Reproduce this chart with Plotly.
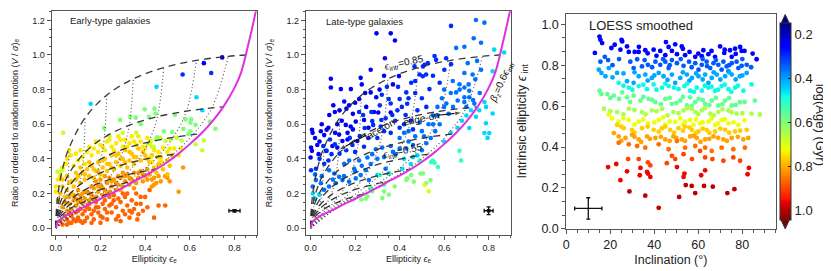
import plotly.graph_objects as go

FONT = "Liberation Sans, Arial, sans-serif"

# ---------------- model grid ----------------
INCL = [0, 5, 10, 15, 20, 30, 40, 50, 60, 70, 80, 90]
EPS_INTR = [0.15, 0.25, 0.35, 0.45, 0.55, 0.65, 0.75, 0.85]
MODEL_EPS = [
    [0, 0.0011, 0.0042, 0.0093, 0.0164, 0.0353, 0.0591, 0.085, 0.1101, 0.1311, 0.1451, 0.15],
    [0, 0.0017, 0.0066, 0.0148, 0.0259, 0.0563, 0.0949, 0.1379, 0.1803, 0.2166, 0.2412, 0.25],
    [0, 0.0022, 0.0088, 0.0195, 0.0344, 0.075, 0.1274, 0.1869, 0.2471, 0.2999, 0.3367, 0.35],
    [0, 0.0027, 0.0106, 0.0236, 0.0417, 0.0914, 0.1563, 0.2314, 0.3094, 0.3802, 0.4311, 0.45],
    [0, 0.003, 0.0121, 0.0271, 0.0478, 0.1052, 0.1812, 0.2706, 0.366, 0.4561, 0.524, 0.55],
    [0, 0.0033, 0.0133, 0.0298, 0.0527, 0.1165, 0.2016, 0.3035, 0.4153, 0.5254, 0.614, 0.65],
    [0, 0.0036, 0.0143, 0.0319, 0.0564, 0.125, 0.2173, 0.3293, 0.4551, 0.585, 0.6987, 0.75],
    [0, 0.0037, 0.0149, 0.0333, 0.0589, 0.131, 0.2279, 0.347, 0.4834, 0.63, 0.772, 0.85],
]
MODEL_VS = [
    [0, 0.0128, 0.0254, 0.0379, 0.0499, 0.0725, 0.0925, 0.1093, 0.1226, 0.1323, 0.1381, 0.14],
    [0, 0.0189, 0.0376, 0.0558, 0.0734, 0.1061, 0.1346, 0.1582, 0.1765, 0.1896, 0.1974, 0.2],
    [0, 0.0265, 0.0525, 0.0779, 0.1023, 0.1471, 0.1853, 0.2164, 0.2402, 0.2569, 0.2667, 0.27],
    [0, 0.0347, 0.0687, 0.1017, 0.1332, 0.1904, 0.2382, 0.2763, 0.3049, 0.3247, 0.3362, 0.34],
    [0, 0.0457, 0.0905, 0.1338, 0.1747, 0.2478, 0.3078, 0.3544, 0.3888, 0.4121, 0.4256, 0.43],
    [0, 0.0607, 0.12, 0.1768, 0.2302, 0.324, 0.399, 0.4558, 0.4968, 0.5242, 0.5399, 0.545],
    [0, 0.0821, 0.1619, 0.2378, 0.3084, 0.43, 0.5245, 0.5943, 0.6435, 0.6758, 0.6941, 0.70],
    [0, 0.1241, 0.2442, 0.3575, 0.4613, 0.6363, 0.7679, 0.8622, 0.9271, 0.9691, 0.9924, 1.0],
]
DASHED_LEVELS = [0.25, 0.35, 0.45, 0.55, 0.65, 0.75, 0.85]
DOTTED_INCL = [10, 20, 30, 40, 50, 60, 70, 80]

EDGE_X = [0.003, 0.006, 0.02, 0.05, 0.1, 0.15, 0.2, 0.25, 0.3, 0.35, 0.4, 0.45, 0.5, 0.55,
          0.6, 0.65, 0.7, 0.75, 0.8, 0.83, 0.86, 0.88, 0.9]
EDGE_Y = [0.0, 0.03, 0.05, 0.075, 0.105, 0.138, 0.168, 0.2, 0.233, 0.27, 0.303, 0.34, 0.382,
          0.43, 0.485, 0.545, 0.615, 0.70, 0.81, 0.9, 1.05, 1.16, 1.28]

# ---------------- Early-type galaxies: (ellipticity, V/sigma) per age band ----------------
ETG_BANDS_AGE = [0.87, 0.82, 0.78, 0.745, 0.68, 0.6, 0.45, 0.3, 0.25, 0.2]
ETG_RED = [(0.02,0.04),(0.03,0.02),(0.05,0.05),(0.06,0.03),(0.07,0.07),(0.08,0.05),(0.09,0.09),(0.1,0.06),
           (0.11,0.04),(0.12,0.08),(0.13,0.1),(0.14,0.06),(0.15,0.11),(0.16,0.08),(0.17,0.05),(0.18,0.12),
           (0.19,0.09),(0.2,0.07),(0.21,0.14),(0.22,0.11),(0.23,0.05),(0.24,0.13),(0.25,0.09),(0.26,0.16),
           (0.27,0.12),(0.28,0.07),(0.29,0.15),(0.3,0.1),(0.31,0.18),(0.32,0.13),(0.33,0.06),(0.34,0.16),
           (0.35,0.11),(0.36,0.2),(0.37,0.08),(0.38,0.14),(0.4,0.18),(0.41,0.12),(0.42,0.22),(0.44,0.06),
           (0.46,0.13),(0.49,0.13),(0.1,0.1),(0.14,0.12),(0.18,0.15),(0.22,0.16),(0.26,0.19),(0.06,0.09),
           (0.04,0.07),(0.12,0.03),(0.2,0.03),(0.29,0.04),(0.33,0.1),(0.365,0.05),(0.24,0.18),(0.3,0.2),
           (0.05,0.02),(0.09,0.04),(0.13,0.04),(0.16,0.03),(0.19,0.12),(0.21,0.06),(0.23,0.09),(0.25,0.14),
           (0.27,0.05),(0.28,0.17),(0.31,0.08),(0.32,0.2),(0.34,0.09),(0.36,0.14),(0.38,0.18),(0.39,0.1),
           (0.15,0.14),(0.11,0.11),(0.07,0.03),(0.17,0.1)]
ETG_ORANGE = [(0.03,0.12),(0.05,0.1),(0.06,0.14),(0.07,0.11),(0.08,0.16),(0.09,0.13),(0.1,0.15),(0.11,0.19),
              (0.12,0.14),(0.13,0.17),(0.14,0.21),(0.15,0.16),(0.16,0.19),(0.17,0.23),(0.18,0.18),(0.19,0.21),
              (0.2,0.25),(0.21,0.19),(0.22,0.22),(0.23,0.26),(0.24,0.21),(0.25,0.24),(0.26,0.28),(0.27,0.22),
              (0.28,0.25),(0.29,0.29),(0.3,0.24),(0.31,0.27),(0.32,0.31),(0.33,0.25),(0.34,0.28),(0.35,0.32),
              (0.36,0.26),(0.37,0.29),(0.38,0.33),(0.39,0.27),(0.4,0.3),(0.41,0.34),(0.42,0.31),(0.43,0.28),
              (0.44,0.25),(0.45,0.26),(0.46,0.3),(0.49,0.3),(0.5,0.29),(0.51,0.27),(0.55,0.21),(0.57,0.35),
              (0.12,0.2),(0.16,0.24),(0.2,0.28),(0.24,0.29),(0.28,0.3),(0.08,0.19),(0.1,0.22),(0.35,0.23),
              (0.43,0.24),(0.04,0.15),(0.06,0.18),(0.09,0.17),(0.11,0.16),(0.13,0.21),(0.15,0.2),(0.17,0.17),
              (0.19,0.24),(0.21,0.23),(0.23,0.2),(0.25,0.27),(0.27,0.26),(0.29,0.22),(0.31,0.3),(0.33,0.29),
              (0.35,0.27),(0.37,0.32),(0.39,0.31),(0.41,0.28),(0.44,0.29),(0.47,0.27),(0.18,0.27),(0.22,0.3),
              (0.3,0.32)]
ETG_YORANGE = [(0.02,0.2),(0.01,0.16),(0.03,0.24),(0.04,0.18),(0.05,0.22),(0.06,0.26),(0.07,0.2),(0.08,0.24),
               (0.09,0.28),(0.1,0.3),(0.11,0.26),(0.12,0.32),(0.13,0.28),(0.14,0.34),(0.15,0.3),(0.16,0.36),
               (0.17,0.29),(0.18,0.33),(0.19,0.38),(0.2,0.31),(0.21,0.35),(0.22,0.4),(0.23,0.33),(0.24,0.37),
               (0.25,0.42),(0.26,0.34),(0.27,0.38),(0.28,0.43),(0.29,0.36),(0.3,0.4),(0.31,0.45),(0.32,0.35),
               (0.33,0.39),(0.34,0.43),(0.35,0.37),(0.36,0.41),(0.37,0.46),(0.38,0.39),(0.4,0.42),(0.42,0.38),
               (0.44,0.35),(0.45,0.32),(0.48,0.34),(0.5,0.31),(0.51,0.36),(0.52,0.42),(0.5,0.39),
               (0.03,0.28),(0.05,0.3),(0.07,0.27),(0.09,0.32),(0.11,0.35),(0.13,0.31),(0.15,0.38),(0.17,0.34),
               (0.19,0.33),(0.21,0.39),(0.23,0.37),(0.25,0.35),(0.27,0.42),(0.29,0.4),(0.31,0.38),(0.33,0.44),
               (0.35,0.41),(0.39,0.44),(0.41,0.4),(0.43,0.42),(0.46,0.37),(0.47,0.41)]
ETG_YELLOW = [(0.0,0.24),(0.0,0.21),(0.01,0.28),(0.02,0.3),(0.045,0.37),(0.05,0.4),(0.067,0.42),(0.08,0.36),
              (0.1,0.39),(0.12,0.41),(0.13,0.37),(0.14,0.44),(0.16,0.42),(0.17,0.46),(0.19,0.44),(0.2,0.48),
              (0.22,0.45),(0.23,0.5),(0.25,0.47),(0.27,0.49),(0.28,0.53),(0.3,0.47),(0.31,0.51),(0.33,0.49),
              (0.34,0.53),(0.36,0.48),(0.38,0.5),(0.4,0.46),(0.42,0.49),(0.425,0.41),(0.44,0.45),(0.455,0.41),
              (0.47,0.39),(0.48,0.37),(0.48,0.465),(0.51,0.46),(0.53,0.46),(0.55,0.42),(0.56,0.46),(0.43,0.38),
              (0.45,0.35),(0.03,0.35),(0.06,0.45),(0.09,0.43),(0.11,0.45),(0.15,0.47),(0.18,0.5),(0.21,0.47),
              (0.24,0.51),(0.26,0.45),(0.29,0.51),(0.32,0.47),(0.35,0.5),(0.37,0.53),(0.39,0.47),(0.41,0.52),
              (0.43,0.47),(0.46,0.44),(0.5,0.44)]
ETG_YGREEN = [(0.0075,0.325),(0.019,0.325),(0.03,0.334),(0.033,0.55),(0.425,0.503),(0.447,0.512),(0.469,0.521),
              (0.492,0.503),(0.514,0.512),(0.541,0.521),(0.563,0.506),(0.626,0.484),(0.656,0.45),(0.663,0.506),
              (0.41,0.484),(0.439,0.469),(0.3,0.55),(0.36,0.55),(0.24,0.53)]
ETG_GREEN = [(0.216,0.578),(0.288,0.625),(0.332,0.644),(0.358,0.638),(0.398,0.686),(0.442,0.69),(0.447,0.662),
             (0.417,0.643),(0.484,0.559),(0.521,0.555),(0.533,0.653),(0.571,0.574),(0.581,0.628),(0.593,0.544),
             (0.603,0.559),(0.603,0.609),(0.606,0.628),(0.626,0.596),(0.69,0.615),(0.715,0.574),(0.454,0.525),
             (0.38,0.6)]
ETG_CYAN = [(0.156,0.718),(0.451,0.816),(0.63,0.756),(0.656,0.681)]
ETG_BLUE = [(0.568,0.887),(0.696,0.896)]
ETG_BLUE2 = [(0.663,0.953)]
ETG_NAVY = [(0.745,0.986)]
ETG_BANDS = [ETG_RED, ETG_ORANGE, ETG_YORANGE, ETG_YELLOW, ETG_YGREEN, ETG_GREEN, ETG_CYAN, ETG_BLUE,
             ETG_BLUE2, ETG_NAVY]

# ---------------- Late-type galaxies ----------------
LTG_BANDS_AGE = [0.24, 0.3, 0.36, 0.45, 0.52, 0.6, 0.7]
LTG_NAVY = [(0.296,1.125),(0.36,1.125),(0.379,1.084),(0.334,0.981),(0.27,0.915),(0.225,0.868),(0.091,0.863),
            (0.091,0.812),(0.151,0.731),(0.173,0.709),(0.2,0.724),(0.218,0.746),(0.245,0.78),(0.27,0.784),
            (0.295,0.756),(0.285,0.671),(0.304,0.668),(0.36,0.668),(0.37,0.83),(0.397,0.878),(0.006,0.568),
            (0.009,0.55),(0.046,0.559),(0.061,0.537),(0.072,0.568),(0.002,0.465),(0.006,0.446),(0.036,0.427),
            (0.069,0.446),(0.098,0.474),(0.12,0.465),(0.143,0.503),(0.166,0.55),(0.158,0.596),(0.18,0.587),
            (0.203,0.615),(0.24,0.624),(0.128,0.54),(0.166,0.512),(0.21,0.503),(0.102,0.709),(0.084,0.653),
            (0.109,0.671),(0.161,0.69),(0.136,0.803),(0.181,0.803),(0.0,0.408),(0.04,0.5),(0.14,0.62),
            (0.02,0.52),(0.05,0.6),(0.08,0.58),(0.12,0.6),(0.13,0.68),(0.19,0.66),(0.25,0.7),(0.23,0.83),
            (0.31,0.8),(0.33,0.88),(0.03,0.48),(0.11,0.55),(0.19,0.57),(0.26,0.58)]
LTG_BLUE = [(0.277,0.618),(0.315,0.587),(0.337,0.634),(0.367,0.653),(0.218,0.671),(0.188,0.48),(0.343,0.816),
            (0.393,0.816),(0.351,0.746),(0.311,0.709),(0.273,0.671),(0.236,0.653),(0.4,0.746),(0.43,0.784),
            (0.452,0.84),(0.49,0.887),(0.505,0.934),(0.467,0.934),(0.434,0.718),(0.427,0.653),(0.318,0.624),
            (0.281,0.596),(0.243,0.578),(0.221,0.531),(0.176,0.521),(0.109,0.484),(0.087,0.512),(0.057,0.474),
            (0.072,0.446),(0.094,0.427),(0.002,0.334),(0.024,0.343),(0.061,0.371),(0.512,0.943),(0.527,0.953),
            (0.564,0.972),(0.504,0.877),(0.519,0.887),(0.534,0.803),(0.631,1.168),(0.557,0.994),(0.609,0.981),
            (0.601,0.915),(0.631,0.947),(0.47,0.78),(0.5,0.75),(0.48,0.68),(0.52,0.7),(0.45,0.62),(0.40,0.58),
            (0.38,0.62),(0.42,0.6),(0.46,0.57),(0.04,0.4),(0.08,0.39),(0.13,0.43),(0.16,0.45),(0.2,0.44),
            (0.24,0.47),(0.26,0.52),(0.3,0.52),(0.33,0.56),(0.36,0.55),(0.39,0.68),(0.41,0.7),(0.44,0.75),
            (0.47,0.85),(0.55,0.88),(0.58,0.84),(0.36,0.72),(0.32,0.77)]
LTG_LBLUE = [(0.083,0.334),(0.106,0.315),(0.128,0.296),(0.151,0.371),(0.173,0.39),(0.196,0.343),(0.218,0.39),
             (0.255,0.408),(0.277,0.427),(0.293,0.455),(0.322,0.465),(0.36,0.474),(0.382,0.427),(0.024,0.277),
             (0.046,0.259),(0.009,0.24),(0.061,0.221),(0.083,0.24),(0.113,0.259),(0.143,0.277),(0.173,0.268),
             (0.203,0.287),(0.225,0.306),(0.248,0.334),(0.262,0.277),(0.337,0.343),(0.352,0.315),(0.4,0.52),
             (0.42,0.55),(0.44,0.5),(0.47,0.53),(0.5,0.56),(0.53,0.6),(0.55,0.65),(0.57,0.7),(0.59,0.75),
             (0.6,0.8),(0.639,0.85),(0.669,0.831),(0.691,0.812),(0.654,0.784),(0.691,0.756),(0.713,0.793),
             (0.654,1.041),(0.691,1.048),(0.733,1.097),(0.766,1.071),(0.743,1.202),(0.781,1.187),(0.706,0.953),
             (0.748,0.966),(0.728,0.887),(0.691,0.896),(0.766,0.915),(0.661,0.737),(0.691,0.728),(0.713,0.756),
             (0.736,0.719),(0.5,0.45),(0.52,0.49),(0.54,0.52),(0.58,0.6),(0.62,0.66),(0.64,0.7),(0.61,0.72),
             (0.49,0.61),(0.44,0.56),(0.56,0.56),(0.02,0.31),(0.05,0.3),(0.1,0.28),(0.15,0.3),(0.2,0.33),
             (0.23,0.36),(0.27,0.37),(0.3,0.4),(0.33,0.41),(0.37,0.44),(0.4,0.46),(0.43,0.46),(0.46,0.48),
             (0.51,0.53),(0.55,0.6),(0.57,0.65),(0.6,0.7),(0.63,0.78),(0.67,0.8),(0.71,0.83),(0.74,0.86),
             (0.7,0.7),(0.76,0.78),(0.73,0.74)]
LTG_CYAN = [(0.721,0.681),(0.781,0.728),(0.788,0.7),(0.758,0.681),(0.743,0.643),(0.713,0.578),(0.781,0.549),
            (0.795,0.521),(0.818,0.906),(0.825,1.031),(0.87,1.014),(0.818,0.662),(0.788,0.606),(0.803,0.549),
            (0.3,0.306),(0.039,0.193),(0.412,0.343),(0.45,0.37),(0.42,0.4),(0.48,0.42),(0.46,0.41),(0.6,0.5),
            (0.63,0.55),(0.66,0.58),(0.68,0.62),(0.7,0.65),(0.02,0.17),(0.01,0.2)]
LTG_AQUA = [(0.549,0.39),(0.557,0.377),(0.542,0.381),(0.676,0.39),(0.669,0.446),(0.49,0.39),(0.572,0.353),
            (0.33,0.25),(0.27,0.23),(0.311,0.306),(0.355,0.315)]
LTG_GREEN = [(0.494,0.315),(0.464,0.268),(0.519,0.259),(0.539,0.277),(0.434,0.287),(0.33,0.212),(0.352,0.193),
             (0.322,0.174),(0.255,0.184),(0.277,0.212),(0.228,0.165),(0.248,0.169),(0.378,0.24),(0.333,0.259),
             (0.43,0.278),(0.452,0.306),(0.505,0.315)]
LTG_YELLOW = [(0.512,0.249),(0.531,0.212)]
LTG_BANDS = [LTG_NAVY, LTG_BLUE, LTG_LBLUE, LTG_CYAN, LTG_AQUA, LTG_GREEN, LTG_YELLOW]

# ---------------- LOESS panel: (inclination, intrinsic ellipticity) per age band ----------------
LOESS_BANDS_AGE = [0.26, 0.34, 0.41, 0.48, 0.57, 0.65, 0.72, 0.77, 0.81, 0.86, 0.9, 0.96, 1.0]
L_NAVY = [(15.1,0.94),(15.5,0.924),(16.3,0.908),(13,0.86),(25.1,0.924),(25.4,0.916),(20.5,0.884),(24.6,0.876),
          (27.6,0.892),(28.4,0.865),(31.1,0.865),(32.9,0.865),(35.9,0.873),(39.7,0.876),(42.7,0.87),(45.3,0.913),
          (46.5,0.889),(49.5,0.902),(52.5,0.892),(50.3,0.854),(54,0.849),(45,0.849),(58.6,0.841),(61.6,0.844),
          (64.6,0.854),(67.6,0.841),(69.9,0.892),(71.8,0.86),(74.4,0.873),(76.7,0.881),(79,0.889),(79.7,0.87),
          (75.2,0.841),(84.7,0.857),(86.5,0.829),(62.3,0.873),(22,0.9),(33,0.89),(37,0.858),(41,0.846),
          (48,0.87),(56,0.865),(60,0.857),(66,0.87),(72,0.876),(77,0.855),(81,0.87),(53,0.88)]
L_BLUE = [(17.5,0.841),(19,0.825),(15.5,0.817),(29.1,0.817),(32.2,0.829),(35.6,0.825),(37.1,0.802),(40.5,0.817),
          (42.7,0.802),(45,0.817),(48,0.825),(50.3,0.81),(53.3,0.797),(55.8,0.817),(58.6,0.81),(61.6,0.802),
          (63.8,0.817),(66.9,0.81),(69.1,0.802),(71.4,0.817),(72.9,0.794),(75.2,0.81),(77.4,0.817),(79.7,0.797),
          (82,0.802),(34.4,0.794),(30.6,0.786),(46.5,0.786),(60.1,0.778),(65.4,0.786),(73.7,0.77),(78.2,0.786),
          (70.6,0.778),(21,0.8),(24,0.83),(39,0.79),(44,0.83),(47,0.8),(52,0.83),(57,0.79),(62,0.83),
          (64,0.795),(68,0.825),(74,0.8),(80,0.83),(84,0.79)]
L_LBLUE = [(14.8,0.778),(16,0.762),(17.8,0.746),(19.3,0.786),(23.1,0.762),(32.9,0.746),(35.9,0.754),(38.9,0.738),
           (42,0.762),(44.2,0.746),(48,0.754),(51.8,0.738),(54.8,0.754),(57.1,0.738),(60.1,0.746),(63.1,0.754),
           (66.1,0.738),(68.4,0.754),(72.2,0.746),(75.2,0.754),(78.9,0.746),(82,0.762),(27.6,0.722),(30.6,0.714),
           (49.5,0.714),(64.6,0.714),(21,0.74),(26,0.76),(31,0.765),(37,0.725),(40,0.75),(46,0.728),(53,0.765),
           (56,0.725),(59,0.76),(62,0.73),(67,0.765),(70,0.73),(74,0.765),(77,0.73),(80,0.75)]
L_CYAN = [(23.8,0.714),(28.4,0.69),(32.9,0.698),(36.7,0.683),(39.7,0.706),(43.5,0.69),(46.5,0.698),(51,0.683),
          (53.7,0.698),(56.3,0.675),(59.3,0.69),(61.6,0.675),(64.6,0.69),(67.6,0.675),(70.6,0.698),(73.7,0.683),
          (76.7,0.69),(80.5,0.675),(84.2,0.706),(26,0.7),(30,0.68),(35,0.705),(41,0.68),(45,0.71),(49,0.69),
          (55,0.71),(58,0.67),(63,0.7),(66,0.695),(69,0.68),(72,0.705),(75,0.67),(78,0.7)]
L_GREEN = [(15.1,0.675),(16,0.659),(18.6,0.659),(21.6,0.651),(25.4,0.667),(27.6,0.643),(30.6,0.651),(33.7,0.627),
           (37.4,0.635),(40.5,0.619),(45,0.635),(48,0.611),(51.8,0.627),(54.8,0.603),(58.5,0.619),(60.1,0.635),
           (63.1,0.611),(66.1,0.627),(69.1,0.603),(72.2,0.627),(75.2,0.603),(78.9,0.619),(85.7,0.627),(56.3,0.643),
           (20,0.64),(24,0.635),(29,0.62),(35,0.645),(39,0.63),(43,0.61),(47,0.64),(50,0.615),(53,0.645),
           (57,0.6),(62,0.63),(65,0.605),(68,0.64),(71,0.61),(74,0.64),(77,0.605),(81,0.62)]
L_LGREEN = [(17.1,0.587),(23.1,0.571),(28.4,0.587),(34.4,0.571),(38.9,0.579),(43.5,0.587),(48.7,0.571),
            (53.3,0.579),(57,0.587),(58.6,0.571),(61.6,0.579),(65.4,0.563),(69.1,0.571),(73.7,0.579),(77.4,0.563),
            (84.2,0.563),(88,0.559),(20,0.575),(26,0.56),(31,0.58),(36,0.56),(41,0.575),(46,0.555),(51,0.565),
            (55,0.59),(60,0.56),(63,0.59),(67,0.555),(71,0.585),(75,0.57),(80,0.565)]
L_YELLOW = [(19.3,0.559),(20.8,0.54),(23.8,0.524),(28.4,0.532),(32.9,0.524),(37.1,0.516),(42,0.532),(45,0.508),
            (49.5,0.524),(51.8,0.54),(54,0.524),(56.3,0.532),(57.8,0.508),(60.8,0.516),(64.6,0.524),(67.6,0.508),
            (70.6,0.532),(73.7,0.516),(78.2,0.508),(26,0.54),(31,0.51),(35,0.535),(40,0.52),(44,0.545),(47,0.525),
            (53,0.51),(59,0.535),(62,0.52),(66,0.54),(69,0.515),(72,0.535),(76,0.52),(81,0.53)]
L_YORANGE = [(23.1,0.508),(26.1,0.492),(29.9,0.484),(34.4,0.492),(39.7,0.484),(43.5,0.492),(47.2,0.484),
             (51,0.492),(54,0.5),(57.1,0.484),(60.1,0.476),(63.8,0.484),(67.6,0.476),(72.2,0.484),(76.7,0.476),
             (82,0.484),(25,0.5),(31,0.47),(37,0.5),(42,0.475),(45,0.5),(49,0.47),(53,0.48),(56,0.495),(59,0.47),
             (62,0.49),(65,0.47),(70,0.49),(74,0.47),(79,0.48)]
L_ORANGE = [(21.6,0.468),(23.8,0.452),(26.9,0.444),(29.9,0.46),(32.9,0.437),(36.7,0.452),(40.5,0.444),(45,0.437),
            (48.7,0.452),(52.5,0.437),(56.3,0.452),(59.3,0.444),(63.1,0.437),(66.9,0.452),(71.4,0.437),(75.2,0.444),
            (80.5,0.437),(82.7,0.444),(25,0.43),(31,0.45),(34,0.425),(38,0.44),(43,0.45),(47,0.43),(50,0.445),
            (54,0.43),(58,0.455),(61,0.425),(65,0.44),(69,0.445),(73,0.43),(78,0.45)]
L_ORED = [(23.8,0.421),(28.4,0.413),(32.2,0.405),(35.9,0.397),(42,0.413),(46.5,0.389),(50.3,0.429),(54,0.397),
          (58.6,0.405),(63.1,0.397),(66.1,0.381),(70.6,0.397),(75.9,0.389),(81.2,0.397)]
L_RED = [(28.1,0.341),(32.9,0.341),(37.1,0.325),(38.2,0.31),(48,0.357),(49.5,0.341),(57.1,0.341),(63.1,0.349),
         (66.4,0.341),(71.4,0.333),(75.9,0.349),(79,0.333),(45.7,0.321),(53.3,0.365),(60.8,0.381)]
L_DRED = [(19,0.302),(22.7,0.317),(27.6,0.281),(33.7,0.298),(33.4,0.262),(36.7,0.278),(37.1,0.27),(38.2,0.254),
          (50.3,0.302),(53.7,0.27),(53.3,0.254),(61.3,0.262),(83,0.298),(82.4,0.267),(24.6,0.238),(63.1,0.286)]
L_DDRED = [(28.7,0.183),(35.9,0.162),(42,0.103),(51.3,0.156),(57,0.21),(58.6,0.175),(62.6,0.21),(66.6,0.206),
           (73.2,0.175),(76.4,0.194),(54.3,0.214)]
LOESS_BANDS = [L_NAVY, L_BLUE, L_LBLUE, L_CYAN, L_GREEN, L_LGREEN, L_YELLOW, L_YORANGE, L_ORANGE, L_ORED,
               L_RED, L_DRED, L_DDRED]

CBAR_TICKS = [0.2, 0.4, 0.6, 0.8, 1.0]
CBAR_LABELS = ["0.2", "0.4", "0.6", "0.8", "1.0"]
AGE_MIN, AGE_MAX = 0.15, 1.0455

# matplotlib-like jet, (fraction, colour); reversed because age axis runs downward
JET = [(0.0, "rgb(0,0,128)"), (0.11, "rgb(0,0,255)"), (0.125, "rgb(0,0,255)"), (0.34, "rgb(0,219,255)"),
       (0.35, "rgb(0,229,247)"), (0.375, "rgb(21,255,226)"), (0.64, "rgb(239,255,8)"), (0.65, "rgb(247,245,0)"),
       (0.66, "rgb(255,236,0)"), (0.89, "rgb(255,19,0)"), (0.91, "rgb(232,0,0)"), (1.0, "rgb(128,0,0)")]
COLORSCALE = sorted([[round(1 - f, 4), c] for f, c in JET], key=lambda t: t[0])

fig = go.Figure()


def add_points(bands, ages, xa, ya, size):
    for pts, age in zip(bands, ages):
        fig.add_trace(go.Scatter(
            x=[p[0] for p in pts], y=[p[1] for p in pts], mode="markers", xaxis=xa, yaxis=ya,
            marker=dict(size=size, color=[-age] * len(pts), coloraxis="coloraxis", line=dict(width=0)),
            showlegend=False, hoverinfo="skip"))


def add_model(xa, ya):
    for lev in DASHED_LEVELS:
        k = EPS_INTR.index(lev)
        fig.add_trace(go.Scatter(x=MODEL_EPS[k], y=MODEL_VS[k], mode="lines", xaxis=xa, yaxis=ya,
                                 line=dict(color="rgba(45,45,45,0.95)", width=1.3, dash="7px,5px", shape="spline"),
                                 showlegend=False, hoverinfo="skip"))
    for inc in DOTTED_INCL:
        j = INCL.index(inc)
        fig.add_trace(go.Scatter(x=[0] + [row[j] for row in MODEL_EPS], y=[0] + [row[j] for row in MODEL_VS],
                                 mode="lines", xaxis=xa, yaxis=ya,
                                 line=dict(color="rgba(60,60,60,0.9)", width=1.1, dash="1px,2.5px", shape="spline"),
                                 showlegend=False, hoverinfo="skip"))
    fig.add_trace(go.Scatter(x=EDGE_X, y=EDGE_Y, mode="lines", xaxis=xa, yaxis=ya,
                             line=dict(color="#e030e0", width=2, shape="spline"), showlegend=False,
                             hoverinfo="skip"))


def add_err(xa, ya, x, y, ex, ey, msize):
    fig.add_trace(go.Scatter(x=[x], y=[y], mode="markers", xaxis=xa, yaxis=ya,
                             marker=dict(size=msize, color="#111", symbol="square"),
                             error_x=dict(type="constant", value=ex, color="#111", thickness=1.3, width=2),
                             error_y=dict(type="constant", value=ey, color="#111", thickness=1.3, width=2),
                             showlegend=False, hoverinfo="skip"))


def add_arrow(xa, ya, x0, y0, x1, y1):
    fig.add_trace(go.Scatter(x=[x0, x1], y=[y0, y1], mode="lines+markers", xaxis=xa, yaxis=ya,
                             line=dict(color="#111", width=1.2),
                             marker=dict(symbol="arrow", size=[0, 8], angleref="previous", color="#111"),
                             showlegend=False, hoverinfo="skip"))


add_points(ETG_BANDS, ETG_BANDS_AGE, "x", "y", 4.6)
add_model("x", "y")
add_err("x", "y", 0.8, 0.1, 0.025, 0.006, 3.5)

add_points(LTG_BANDS, LTG_BANDS_AGE, "x2", "y2", 4.6)
add_model("x2", "y2")
add_err("x2", "y2", 0.8, 0.1, 0.02, 0.022, 3.5)
add_arrow("x2", "y2", 0.248, 0.536, 0.125, 0.45)
add_arrow("x2", "y2", 0.572, 0.652, 0.682, 0.667)

add_points(LOESS_BANDS, LOESS_BANDS_AGE, "x3", "y3", 4.8)
add_err("x3", "y3", 10, 0.1, 6.2, 0.052, 1)

small = dict(family=FONT, size=9, color="#222")
big = dict(family=FONT, size=12.5, color="#222")
line_c = "#555"


def ax_common(font):
    return dict(showline=True, mirror=True, linecolor=line_c, linewidth=1, ticks="outside", ticklen=4,
                tickcolor=line_c, tickfont=font, showgrid=False, zeroline=False)


VS_TITLE = "Ratio of ordered to random motion (<i>V</i> / <i>σ</i>)<sub>e</sub>"
EPS_TITLE = "Ellipticity <i>ϵ</i><sub>e</sub>"

fig.update_layout(
    width=831, height=271, margin=dict(l=0, r=0, t=0, b=0), plot_bgcolor="white", paper_bgcolor="white",
    font=dict(family=FONT, color="#222"),
    coloraxis=dict(colorscale=COLORSCALE, cmin=-AGE_MAX, cmax=-AGE_MIN,
                   colorbar=dict(x=771.7 / 831, xanchor="left", y=1 - 116.65 / 271, yanchor="middle",
                                 lenmode="pixels", len=196.7, thicknessmode="pixels", thickness=10.6,
                                 outlinewidth=1, outlinecolor="#333", ticks="inside", ticklen=3,
                                 tickcolor="#222", tickvals=[-t for t in CBAR_TICKS], ticktext=CBAR_LABELS,
                                 tickfont=dict(family=FONT, size=13, color="#222"), xpad=0, ypad=0)),
    xaxis=dict(domain=[40.7 / 831, 246.7 / 831], range=[-0.019, 0.9], anchor="y", dtick=0.2, tick0=0,
               tickformat=".1f", minor=dict(dtick=0.05, ticklen=2, ticks="outside", tickcolor=line_c),
               title=dict(text=EPS_TITLE, font=small, standoff=3), **ax_common(small)),
    yaxis=dict(domain=[1 - 233 / 271, 1 - 3.3 / 271], range=[-0.04, 1.253], anchor="x", dtick=0.2, tick0=0,
               tickformat=".1f", minor=dict(dtick=0.05, ticklen=2, ticks="outside", tickcolor=line_c),
               title=dict(text=VS_TITLE, font=small, standoff=12), **ax_common(small)),
    xaxis2=dict(domain=[296 / 831, 501.7 / 831], range=[-0.021, 0.9], anchor="y2", dtick=0.2, tick0=0,
                tickformat=".1f", minor=dict(dtick=0.05, ticklen=2, ticks="outside", tickcolor=line_c),
                title=dict(text=EPS_TITLE, font=small, standoff=3), **ax_common(small)),
    yaxis2=dict(domain=[1 - 233 / 271, 1 - 3.3 / 271], range=[-0.04, 1.253], anchor="x2", dtick=0.2, tick0=0,
                tickformat=".1f", minor=dict(dtick=0.05, ticklen=2, ticks="outside", tickcolor=line_c),
                title=dict(text=VS_TITLE, font=small, standoff=12), **ax_common(small)),
    xaxis3=dict(domain=[557.3 / 831, 767.3 / 831], range=[0, 95.1], anchor="y3", dtick=20, tick0=0,
                minor=dict(dtick=5, ticklen=3, ticks="outside", tickcolor=line_c),
                title=dict(text="Inclination (°)", font=big, standoff=4), **ax_common(big)),
    yaxis3=dict(domain=[1 - 226.7 / 271, 1 - 6 / 271], range=[0, 1.051], anchor="x3", dtick=0.2, tick0=0,
                tickformat=".1f", minor=dict(dtick=0.2 / 3, ticklen=3, ticks="outside", tickcolor=line_c),
                title=dict(text="Intrinsic ellipticity <i>ϵ</i><sub> int</sub>", font=big, standoff=12),
                **ax_common(big)),
)

ann_small = dict(family=FONT, size=10, color="#111")
fig.add_annotation(x=0.244, y=1.197, xref="x", yref="y", text="Early-type galaxies", showarrow=False,
                   font=dict(family=FONT, size=9.5, color="#222"))
fig.add_annotation(x=0.243, y=1.196, xref="x2", yref="y2", text="Late-type galaxies", showarrow=False,
                   font=dict(family=FONT, size=9.5, color="#222"))
fig.add_annotation(x=34.1, y=0.992, xref="x3", yref="y3", text="LOESS smoothed", showarrow=False,
                   font=dict(family=FONT, size=13, color="#222"))
fig.add_annotation(x=0.418, y=0.956, xref="x2", yref="y2", text="<i>ϵ</i><sub>intr</sub>=0.85", showarrow=False,
                   textangle=-12, font=ann_small)
fig.add_annotation(x=0.415, y=0.444, xref="x2", yref="y2", text="<i>ϵ</i><sub>intr</sub>=0.55", showarrow=False,
                   textangle=-12, font=ann_small)
fig.add_annotation(x=0.31, y=0.568, xref="x2", yref="y2", text="face-on", showarrow=False, textangle=-30,
                   font=ann_small)
fig.add_annotation(x=0.497, y=0.634, xref="x2", yref="y2", text="edge-on", showarrow=False, textangle=-12,
                   font=ann_small)
fig.add_annotation(x=0.86, y=0.849, xref="x2", yref="y2", text="<i>β</i><sub>z</sub>=0.6<i>ϵ</i><sub>intr</sub>",
                   showarrow=False, textangle=-66, font=ann_small)
fig.add_annotation(x=821.7 / 831, y=1 - 120 / 271, xref="paper", yref="paper", text="log(Age) (Gyr)",
                   showarrow=False, textangle=90, font=dict(family=FONT, size=13, color="#222"))

# colour-bar extension triangles
cb_l, cb_r = 771.7 / 831, 782.3 / 831
cb_m = (cb_l + cb_r) / 2
top_b, top_a = 1 - 18.3 / 271, 1 - 6.7 / 271
bot_b, bot_a = 1 - 215 / 271, 1 - 226.7 / 271
fig.add_shape(type="path", xref="paper", yref="paper", path=f"M {cb_l} {top_b} L {cb_r} {top_b} L {cb_m} {top_a} Z",
              fillcolor="rgb(0,0,128)", line=dict(color="#333", width=1))
fig.add_shape(type="path", xref="paper", yref="paper", path=f"M {cb_l} {bot_b} L {cb_r} {bot_b} L {cb_m} {bot_a} Z",
              fillcolor="rgb(128,0,0)", line=dict(color="#333", width=1))

fig.write_html("out.html")
